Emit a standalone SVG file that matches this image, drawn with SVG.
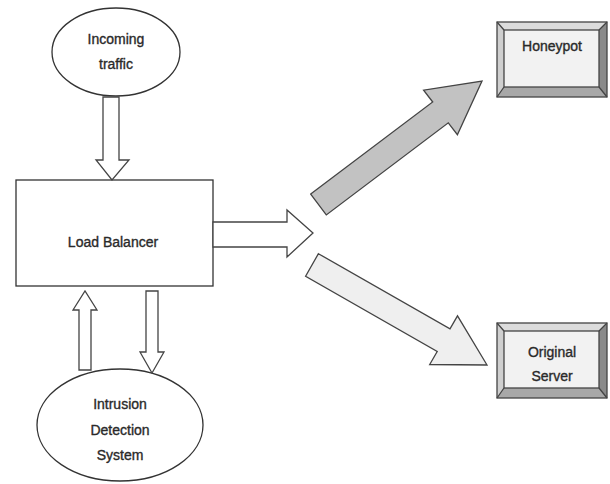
<svg xmlns="http://www.w3.org/2000/svg" width="610" height="484" viewBox="0 0 610 484">
<style>
.shape{fill:#fff;stroke:#333;stroke-width:1.3}
.txt{font-family:"Liberation Sans",Arial,sans-serif;font-size:14px;fill:#2a2a2a;stroke:#2a2a2a;stroke-width:0.35;text-anchor:middle;dominant-baseline:middle}
.conn{fill:#fff;stroke:#444;stroke-width:1.3;stroke-linejoin:miter}
.band-t{fill:#dcdcdc}.band-l{fill:#cfcfcf}.band-r{fill:#8a8a8a}.band-b{fill:#a8a8a8}
.bev{stroke:#444;stroke-width:1.3;fill:none}
</style>
<rect width="610" height="484" fill="#fff"/>
<g id="incoming">
<ellipse class="shape" cx="116" cy="52" rx="64" ry="44"/>
<text class="txt" x="116" y="40">Incoming</text>
<text class="txt" x="116" y="65">traffic</text>
</g>
<g id="load-balancer">
<rect class="shape" x="16" y="180" width="197" height="106"/>
<text class="txt" x="113" y="243">Load Balancer</text>
</g>
<g id="ids">
<ellipse class="shape" cx="120" cy="425" rx="83" ry="56"/>
<text class="txt" x="120" y="405">Intrusion</text>
<text class="txt" x="120" y="431">Detection</text>
<text class="txt" x="120" y="456">System</text>
</g>
<g id="honeypot">
<rect x="497" y="22" width="110" height="75" fill="#dcdcdc"/>
<polygon class="band-l" points="497,22 504,30 504,87 497,97"/>
<polygon class="band-r" points="607,22 599,30 599,87 607,97"/>
<polygon class="band-b" points="497,97 504,87 599,87 607,97"/>
<rect x="504" y="30" width="95" height="57" fill="#f2f2f2"/>
<rect class="bev" x="497" y="22" width="110" height="75"/>
<rect class="bev" x="504" y="30" width="95" height="57"/>
<path class="bev" d="M497,22L504,30M607,22L599,30M497,97L504,87M607,97L599,87" stroke-width="0.8"/>
<text class="txt" x="552" y="47">Honeypot</text>
</g>
<g id="original-server">
<rect x="497" y="323" width="110" height="75" fill="#dcdcdc"/>
<polygon class="band-l" points="497,323 504,331 504,388 497,398"/>
<polygon class="band-r" points="607,323 599,331 599,388 607,398"/>
<polygon class="band-b" points="497,398 504,388 599,388 607,398"/>
<rect x="504" y="331" width="95" height="57" fill="#f2f2f2"/>
<rect class="bev" x="497" y="323" width="110" height="75"/>
<rect class="bev" x="504" y="331" width="95" height="57"/>
<path class="bev" d="M497,323L504,331M607,323L599,331M497,398L504,388M607,398L599,388" stroke-width="0.8"/>
<text class="txt" x="552" y="353">Original</text>
<text class="txt" x="552" y="377">Server</text>
</g>
<g id="connectors">
<polygon class="conn" points="103,97 119,97 119,160 129,160 112,180 96,160 103,160"/>
<polygon class="conn" points="213,222 287,222 287,210 313,233 287,257 287,247 213,247"/>
<polygon class="conn" points="79,370 91,370 91,310 97,310 85,291 73,310 79,310"/>
<polygon class="conn" points="146,291 158,291 158,352 164,352 152,373 140,352 146,352"/>
<polygon class="conn" style="fill:#c2c2c2" points="310.7,194.1 432.7,102 423.6,90.1 482,81 457.4,134.7 448.3,122.8 326.3,214.9"/>
<polygon class="conn" style="fill:#efefef" points="318.4,253.7 450,328.9 457.5,315.9 487,365 429.7,364.5 437.2,351.5 305.6,276.3"/>
</g>
</svg>
